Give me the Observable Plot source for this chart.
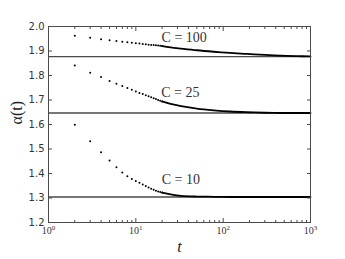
<!DOCTYPE html>
<html>
<head>
<meta charset="utf-8">
<script src="https://cdn.jsdelivr.net/npm/d3@7"></script>
<script src="https://cdn.jsdelivr.net/npm/@observablehq/plot@0.6"></script>
<style>
  html, body { margin: 0; padding: 0; background: #fff; }
</style>
</head>
<body>
<div id="chart"></div>
<script>
// ---- data ----
const tValues = [2,3,4,5,6,7,8,9,10,11,12,13,14,15,16,17,18,19,20,25,33,50,78,120,189,300,455,700,1000];
const alphaC100 = [1.962,1.954,1.948,1.944,1.941,1.938,1.936,1.934,1.932,1.931,1.929,1.928,1.926,1.925,1.924,1.923,1.922,1.921,1.920,1.915,1.910,1.903,1.897,1.892,1.888,1.884,1.881,1.879,1.878];
const alphaC25  = [1.841,1.811,1.794,1.778,1.766,1.757,1.749,1.742,1.735,1.729,1.724,1.719,1.715,1.711,1.707,1.704,1.700,1.697,1.694,1.684,1.675,1.665,1.658,1.653,1.650,1.648,1.647,1.647,1.647];
const alphaC10  = [1.599,1.532,1.487,1.453,1.426,1.404,1.389,1.378,1.369,1.362,1.355,1.349,1.343,1.338,1.334,1.330,1.327,1.324,1.322,1.315,1.309,1.306,1.305,1.304,1.304,1.304,1.304,1.304,1.304];
const asymptotes = [1.877, 1.647, 1.304];
const seriesNames = ["C = 100", "C = 25", "C = 10"];
const labelT = [19.7, 19.5, 19.8];
const labelAlpha = [1.955, 1.731, 1.376];
const yTicks = [1.2,1.3,1.4,1.5,1.6,1.7,1.8,1.9,2.0];
const xMajor = [1,10,100,1000];
const xMinor = [2,3,4,5,6,7,8,9,20,30,40,50,60,70,80,90,200,300,400,500,600,700,800,900];
const denseFrom = 20;

// ---- build table ----
const allSeries = [alphaC100, alphaC25, alphaC10];
const rows = [];
allSeries.forEach((vals, i) => {
  vals.forEach((a, j) => rows.push({series: seriesNames[i], t: tValues[j], a}));
});
const labels = seriesNames.map((s, i) => ({text: s, t: labelT[i], a: labelAlpha[i]}));

const gray = "#4a4a4a";
const sans = "DejaVu Sans, sans-serif";
const serif = "Liberation Serif, DejaVu Serif, serif";

const plot = Plot.plot({
  width: 345,
  height: 259,
  marginLeft: 48,
  marginRight: 35,
  marginTop: 26,
  marginBottom: 37,
  x: {type: "log", domain: [1, 1000]},
  y: {domain: [1.2, 2.0]},
  style: {background: "#fff", color: "#333"},
  marks: [
    Plot.ruleY(asymptotes, {stroke: gray, strokeWidth: 1.3}),
    Plot.line(rows.filter(d => d.t >= denseFrom), {x: "t", y: "a", z: "series", stroke: "#000", strokeWidth: 1.8, curve: "catmull-rom"}),
    Plot.dot(rows.filter(d => d.t <= denseFrom), {x: "t", y: "a", r: 1, fill: "#000", stroke: null}),
    Plot.text(labels, {x: "t", y: "a", text: "text", textAnchor: "start", fontSize: 14, fontFamily: serif, fill: "#333", ariaLabel: "clabel"}),
    // y ticks inward both sides
    Plot.axisY({anchor: "left", ticks: yTicks, tickSize: -4, tickFormat: () => "", label: null, stroke: gray}),
    Plot.axisY({anchor: "right", ticks: yTicks, tickSize: -4, tickFormat: () => "", label: null, stroke: gray}),
    Plot.axisY({anchor: "left", ticks: yTicks, tickSize: 0, tickPadding: 4, tickFormat: d3.format(".1f"), label: null, fontSize: 10, fontFamily: sans, fill: "#333"}),
    // x ticks inward both sides
    Plot.axisX({anchor: "bottom", ticks: xMajor, tickSize: -4, tickFormat: () => "", label: null, stroke: gray}),
    Plot.axisX({anchor: "top", ticks: xMajor, tickSize: -4, tickFormat: () => "", label: null, stroke: gray}),
    Plot.axisX({anchor: "bottom", ticks: xMinor, tickSize: -2, tickFormat: () => "", label: null, stroke: gray}),
    Plot.axisX({anchor: "top", ticks: xMinor, tickSize: -2, tickFormat: () => "", label: null, stroke: gray}),
    Plot.axisX({anchor: "bottom", ticks: xMajor, tickSize: 0, tickPadding: 4, tickFormat: d => String(Math.round(Math.log10(d))), label: null, fontSize: 10, fontFamily: serif, fill: "#333"}),
    Plot.frame({stroke: gray, strokeWidth: 1}),
    // axis titles
    Plot.text(["t"], {frameAnchor: "bottom", dy: 24, lineAnchor: "middle", fontSize: 16, fontStyle: "italic", fontFamily: serif, fill: "#222", ariaLabel: "xtitle"}),
    Plot.text(["α(t)"], {frameAnchor: "left", dx: -32, rotate: -90, lineAnchor: "middle", fontSize: 16, fontFamily: serif, fill: "#222", ariaLabel: "ytitle"})
  ]
});

document.getElementById("chart").appendChild(plot);

// remove empty tick-label texts left by the tick-only axes
plot.querySelectorAll('g[aria-label$="tick label"] text').forEach(el => {
  if (el.textContent === "") el.remove();
});
// superscript exponents on x tick labels
plot.querySelectorAll('g[aria-label="x-axis tick label"] text').forEach(el => {
  const e = el.textContent;
  el.innerHTML = `10<tspan dy="-4" font-size="7">${e}</tspan>`;
});
// italic C and math spacing in annotations
plot.querySelectorAll('g[aria-label="clabel"] text').forEach(el => {
  const num = el.textContent.split("=")[1].trim();
  el.innerHTML = `<tspan font-style="italic">C</tspan>\u2002=\u2002${num}`;
});
plot.querySelectorAll('g[aria-label="ytitle"] text').forEach(el => {
  el.innerHTML = `<tspan font-style="italic">α</tspan>(<tspan font-style="italic">t</tspan>)`;
});
</script>
</body>
</html>
